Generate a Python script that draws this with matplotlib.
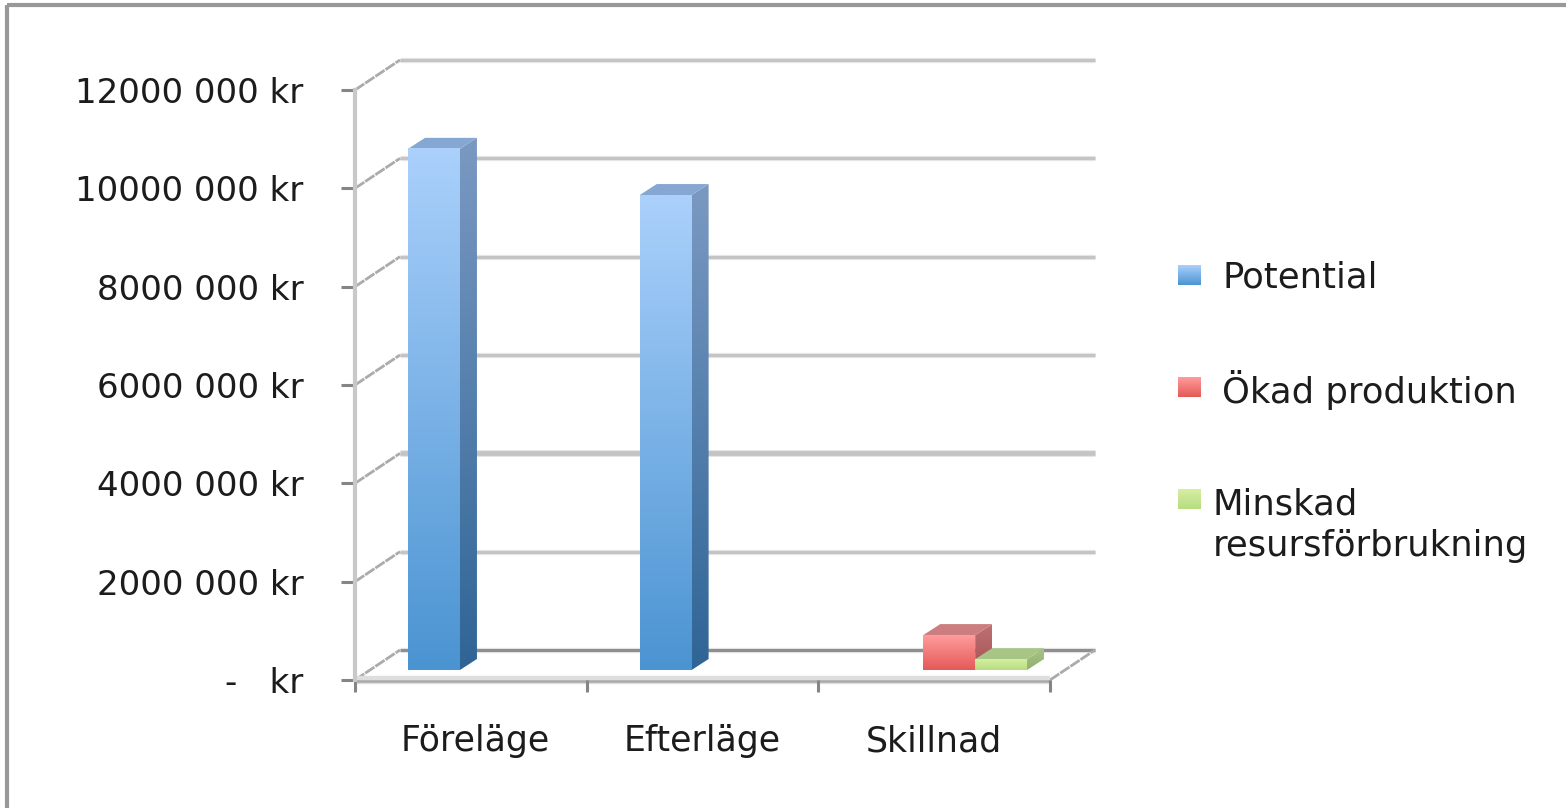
import matplotlib
matplotlib.use('Agg')
import matplotlib.pyplot as plt
import numpy as np
from matplotlib.patches import Polygon, Rectangle

plt.rcParams['font.family'] = ['DejaVu Sans']

categories = ['Föreläge', 'Efterläge', 'Skillnad']
series_names = ['Potential', 'Ökad produktion', 'Minskad\nresursförbrukning']
potential = [10600000, 9660000, 0]
okad_produktion = [0, 0, 710000]
minskad_resurs = [0, 0, 220000]
y_ticks = [0, 2000000, 4000000, 6000000, 8000000, 10000000, 12000000]
y_labels = ['-   kr', '2000 000 kr', '4000 000 kr', '6000 000 kr', '8000 000 kr', '10000 000 kr', '12000 000 kr']

W, H = 1566, 808
# plot front plane in pixels
left, right, bottom, top = 355, 1050, 680, 90
TEXT = '#1c1c1c'

fig = plt.figure(figsize=(W / 100, H / 100), dpi=100, facecolor='white')
ax = fig.add_axes([left / W, 1 - bottom / H, (right - left) / W, (bottom - top) / H])
ax.set_xlim(0, 3)
ax.set_ylim(0, 12000000)
ax.patch.set_visible(False)

# pixel sizes to data units
px_x = 3 / (right - left)
px_y = 12000000 / (bottom - top)
wall_dx, wall_dy = 45 * px_x, 30 * px_y
bar_dx, bar_dy = 17 * px_x, 11 * px_y
base_lift = 10 * px_y
bar_width = 0.224
bar_start = 0.229


def gradient(a, x0, x1, y0, y1, c_top, c_bottom, z):
    c = np.array([matplotlib.colors.to_rgb(c_top), matplotlib.colors.to_rgb(c_bottom)])
    img = np.linspace(c[0], c[1], 64).reshape(64, 1, 3)
    im = a.imshow(img, extent=[x0, x1, y0, y1], aspect='auto', origin='upper',
                  zorder=z, interpolation='bilinear', clip_on=False)
    return im


def draw_bar(x, value, front, side, roof, z):
    if value <= 0:
        return
    y0 = base_lift
    y1 = base_lift + value
    x1 = x + bar_width
    im = gradient(ax, x1, x1 + bar_dx, y0, y1 + bar_dy, side[0], side[1], z)
    im.set_clip_on(True)
    im.set_clip_path(Polygon([[x1, y0], [x1 + bar_dx, y0 + bar_dy], [x1 + bar_dx, y1 + bar_dy], [x1, y1]],
                             transform=ax.transData))
    ax.add_patch(Polygon([[x, y1], [x + bar_dx, y1 + bar_dy], [x1 + bar_dx, y1 + bar_dy], [x1, y1]],
                         facecolor=roof, edgecolor='none', zorder=z + 0.1, clip_on=False))
    gradient(ax, x, x1, y0, y1, front[0], front[1], z + 0.2)


# floor and walls
ax.add_patch(Polygon([[0, 0], [3, 0], [3 + wall_dx, wall_dy], [wall_dx, wall_dy]],
                     facecolor='white', edgecolor='none', zorder=0.5, clip_on=False))
for v in y_ticks:
    col = '#8f8f8f' if v == 0 else '#c4c4c4'
    lw = 2.2 if v != 4000000 else 3.4
    ax.plot([wall_dx, 3 + wall_dx], [v + wall_dy, v + wall_dy], color='#e6e6e6', lw=lw + 1.6,
            zorder=1, clip_on=False, solid_capstyle='butt')
    ax.plot([wall_dx, 3 + wall_dx], [v + wall_dy, v + wall_dy], color=col, lw=lw,
            zorder=1.1, clip_on=False, solid_capstyle='butt')
    ax.plot([0, wall_dx], [v, v + wall_dy], color='#ababab', lw=2, ls=(0, (4, 0.4)),
            zorder=1.2, clip_on=False)
ax.plot([3, 3 + wall_dx], [0, wall_dy], color='#ababab', lw=2, ls=(0, (4, 0.4)), zorder=1.2, clip_on=False)
ax.plot([0, 3], [0, 0], color='#dedede', lw=6, zorder=1.3, clip_on=False, solid_capstyle='butt')
ax.plot([0, 3], [-px_y, -px_y], color='#a9a9a9', lw=1.8, zorder=1.4, clip_on=False,
        solid_capstyle='butt')

blue = (('#aad0fb', '#4b94d2'), ('#7a99c2', '#2f6596'), '#85a7d1')
red = (('#ff9c9c', '#e35a58'), ('#bd7274', '#a85254'), '#cc7d7f')
green = (('#d6efa2', '#b6dc80'), ('#a8c488', '#90b070'), '#a7c585')

for i in range(3):
    draw_bar(i + bar_start, potential[i], blue[0], blue[1], blue[2], 3)
for i in range(3):
    draw_bar(i + bar_start + bar_width, okad_produktion[i], red[0], red[1], red[2], 4)
for i in range(3):
    draw_bar(i + bar_start + 2 * bar_width, minskad_resurs[i], green[0], green[1], green[2], 5)

ax.set_xlim(0, 3)
ax.set_ylim(0, 12000000)

# axes, ticks, labels
for s in ['top', 'right']:
    ax.spines[s].set_visible(False)
ax.spines['bottom'].set_visible(False)
ax.spines['left'].set_color('#c8c8c8')
ax.spines['left'].set_linewidth(3)
ax.set_yticks(y_ticks)
ax.set_yticklabels(y_labels, fontsize=24.5, color=TEXT)
ax.set_xticks([0, 1, 2, 3])
ax.set_xticklabels([])
ax.set_xticks([0.52, 1.5, 2.5], minor=True)
ax.set_xticklabels(categories, minor=True, fontsize=25, color=TEXT)
ax.tick_params(axis='y', length=10, width=2.2, color='#858585', pad=27)
ax.tick_params(axis='x', which='major', length=8.5, width=2.2, color='#858585')
ax.tick_params(axis='x', which='minor', length=0, pad=32)

# overlay in pixels for frame and legend
ov = fig.add_axes([0, 0, 1, 1])
ov.set_xlim(0, W)
ov.set_ylim(H, 0)
ov.axis('off')
ov.patch.set_visible(False)
ov.add_patch(Rectangle((7, 5), W + 10, H + 10, facecolor='none', edgecolor='#989898', lw=3))

swatch_y = [265, 377, 489]
text_x = [1222, 1222, 1213]
text_y = [277, 390, 525]
swatch_colors = [blue[0], red[0], green[0]]
for name, sy, tx, ty, c in zip(series_names, swatch_y, text_x, text_y, swatch_colors):
    gradient(ov, 1178, 1201, sy + 20, sy, c[0], c[1], 2)
    ov.text(tx, ty, name, fontsize=25.5, color=TEXT, va='center', ha='left', linespacing=1.27)
ov.set_xlim(0, W)
ov.set_ylim(H, 0)

fig.savefig('out.png', dpi=100)
